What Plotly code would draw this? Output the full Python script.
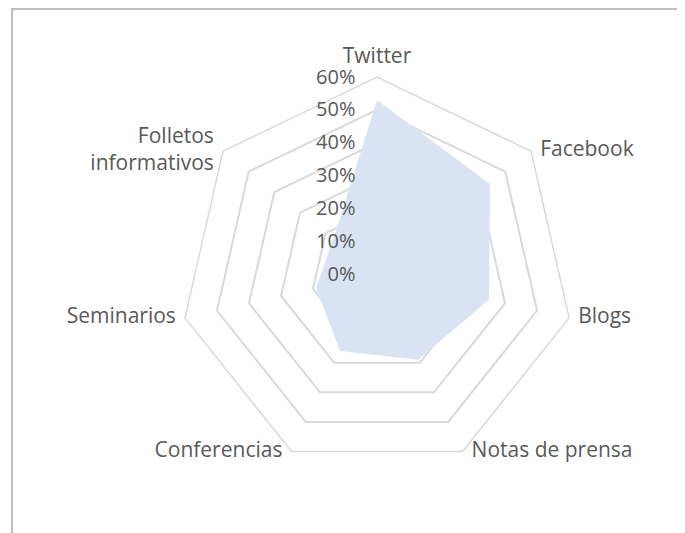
import plotly.graph_objects as go

categorias = ["Twitter", "Facebook", "Blogs", "Notas de prensa",
              "Conferencias", "Seminarios", "Folletos<br>informativos"]
valores = [0.53, 0.44, 0.35, 0.29, 0.26, 0.19, 0.17]
ticks_radiales = [0, 0.1, 0.2, 0.3, 0.4, 0.5, 0.6]

r_max = ticks_radiales[-1]
# el navegador deja 8px de margen en el body: se compensa aquí
dominio = dict(x=[0.2511, 0.8263], y=[0.1313, 0.8705])

fig = go.Figure()
fig.add_trace(go.Scatterpolar(
    r=valores + valores[:1],
    theta=categorias + categorias[:1],
    mode="lines",
    fill="toself",
    fillcolor="#DAE3F3",
    line=dict(width=0, color="#DAE3F3"),
    hoverinfo="skip",
    showlegend=False,
))
# nombres de categoría colocados como en Excel (centrados en el vértice)
fig.add_trace(go.Scatterpolar(
    r=[r_max] * len(categorias),
    theta=categorias,
    mode="markers+text",
    marker=dict(size=13, color="rgba(0,0,0,0)"),
    text=categorias,
    textposition=["top center", "middle right", "middle right", "middle right",
                  "middle left", "middle left", "middle left"],
    textfont=dict(size=21, color="#595959"),
    cliponaxis=False,
    hoverinfo="skip",
    showlegend=False,
))
# segundo polar vacío, solo para dibujar las etiquetas % encima del relleno
fig.add_trace(go.Scatterpolar(r=[], theta=[], subplot="polar2",
                              showlegend=False, hoverinfo="skip"))

fig.update_layout(
    width=685,
    height=533,
    margin=dict(l=0, r=0, t=0, b=0),
    paper_bgcolor="white",
    plot_bgcolor="white",
    font=dict(family="Open Sans", size=20, color="#595959"),
    polar=dict(
        domain=dominio,
        gridshape="linear",
        bgcolor="white",
        radialaxis=dict(
            range=[0, r_max],
            tickvals=ticks_radiales,
            angle=90,
            showticklabels=False,
            showline=False,
            ticks="",
            gridcolor="#D9D9D9",
            gridwidth=1.5,
            layer="below traces",
        ),
        angularaxis=dict(
            rotation=90,
            direction="clockwise",
            showgrid=False,
            showline=True,
            linecolor="#D9D9D9",
            linewidth=1.5,
            ticks="",
            showticklabels=False,
            layer="below traces",
        ),
    ),
    polar2=dict(
        domain=dominio,
        gridshape="linear",
        bgcolor="rgba(0,0,0,0)",
        radialaxis=dict(
            range=[0, r_max],
            tickvals=ticks_radiales,
            tickformat=".0%",
            angle=90,
            tickangle=90,
            side="counterclockwise",
            showline=False,
            showgrid=False,
            ticks="outside",
            ticklen=14,
            tickcolor="rgba(0,0,0,0)",
        ),
        angularaxis=dict(
            rotation=90,
            direction="clockwise",
            visible=False,
        ),
    ),
    shapes=[dict(
        type="rect", xref="paper", yref="paper",
        x0=4 / 685, x1=1.05, y0=-0.05, y1=1 - 1 / 533,
        line=dict(color="#BFBFBF", width=2),
    )],
)

fig.write_html("out.html")
